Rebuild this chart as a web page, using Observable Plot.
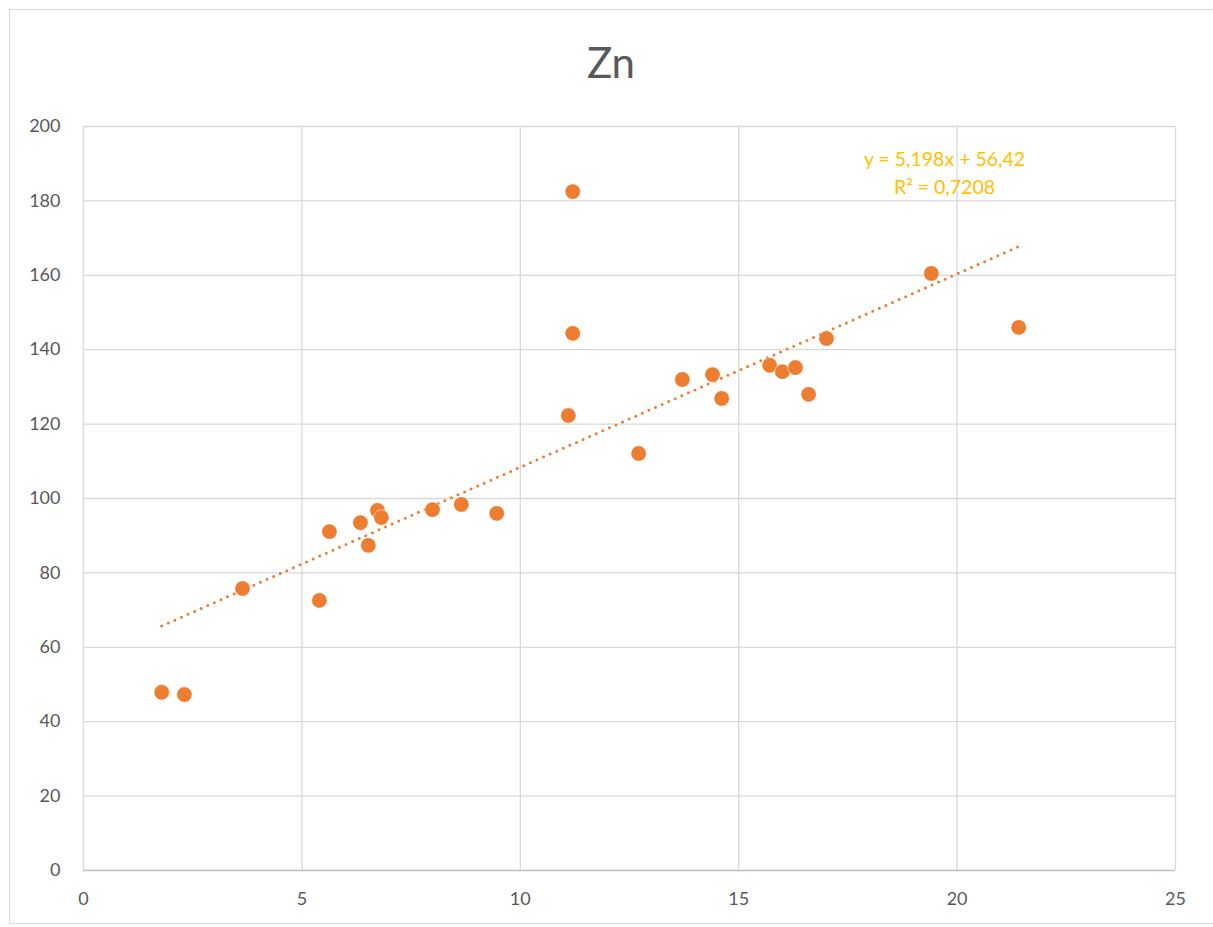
<!DOCTYPE html>
<html>
<head>
<meta charset="utf-8">
<script src="https://cdn.jsdelivr.net/npm/d3@7"></script>
<script src="https://cdn.jsdelivr.net/npm/@observablehq/plot@0.6"></script>
<style>
  html, body { margin: 0; padding: 0; background: #fff; }
  #wrap { position: relative; width: 1213px; height: 927px; overflow: hidden; font-family: Lato, "Open Sans", sans-serif; }
  #frame { position: absolute; left: 9px; top: 9px; width: 1210px; height: 915px; border: 1px solid #d9d9d9; box-sizing: border-box; }
  #title { position: absolute; left: 9px; width: 1204px; top: 37px; text-align: center; font-size: 42px; color: #595959; }
  #chart { position: absolute; left: 0; top: 0; }
</style>
</head>
<body>
<div id="wrap">
  <div id="frame"></div>
  <div id="chart"></div>
  <div id="title">Zn</div>
</div>
<script>
const xValues = [1.79, 2.31, 3.64, 5.40, 5.63, 6.34, 6.52, 6.73, 6.82, 7.99, 8.65, 9.46, 11.10, 11.20, 11.20, 12.71, 13.71, 14.40, 14.61, 15.71, 16.00, 16.30, 16.60, 17.01, 19.41, 21.41];
const yValues = [47.9, 47.3, 75.8, 72.6, 91.1, 93.5, 87.4, 96.8, 94.9, 97.0, 98.4, 96.0, 122.3, 144.4, 182.5, 112.1, 132.0, 133.3, 126.9, 135.8, 134.1, 135.2, 128.0, 143.0, 160.5, 146.0];
const xTicks = [0, 5, 10, 15, 20, 25];
const yTicks = [0, 20, 40, 60, 80, 100, 120, 140, 160, 180, 200];
const trendSlope = 5.198;
const trendIntercept = 56.42;
const equationLines = ["y = 5,198x + 56,42", "R² = 0,7208"];

const points = xValues.map((x, i) => ({x, y: yValues[i]}));
const xMin = d3.min(xValues), xMax = d3.max(xValues);
const trend = [xMin, xMax].map(x => ({x, y: trendSlope * x + trendIntercept}));

const chart = Plot.plot({
  width: 1213,
  height: 927,
  marginLeft: 83,
  marginRight: 38,
  marginTop: 126,
  marginBottom: 57,
  style: {fontFamily: "Lato, 'Open Sans', sans-serif", fontSize: "18px", color: "#595959", background: "transparent"},
  x: {domain: [0, 25], ticks: xTicks, tickSize: 0, tickPadding: 22, label: null},
  y: {domain: [0, 200], ticks: yTicks, tickSize: 0, tickPadding: 23, label: null},
  marks: [
    Plot.ruleX(xTicks, {stroke: "#d9d9d9", strokeWidth: 1.3}),
    Plot.ruleY(yTicks.filter(d => d > 0), {stroke: "#d9d9d9", strokeWidth: 1.3}),
    Plot.ruleY([0], {stroke: "#bfbfbf", strokeWidth: 1.5}),
    Plot.axisX({ticks: xTicks, tickSize: 0, tickPadding: 22, fontSize: 18, fill: "#595959"}),
    Plot.axisY({ticks: yTicks, tickSize: 0, tickPadding: 23, fontSize: 18, fill: "#595959"}),
    Plot.line(trend, {x: "x", y: "y", stroke: "#ED7D31", strokeWidth: 3, strokeDasharray: "0 7.2", strokeLinecap: "round"}),
    Plot.dot(points, {x: "x", y: "y", r: 7.7, fill: "#ED7D31", stroke: "#fff", strokeWidth: 0.5}),
    Plot.text([equationLines.join("\n")], {frameAnchor: "top-right", dx: -231, dy: 19, text: d => d, fill: "#FFC000", fontSize: 19.5, textAnchor: "middle", lineHeight: 1.45})
  ]
});
document.getElementById("chart").appendChild(chart);
</script>
</body>
</html>
